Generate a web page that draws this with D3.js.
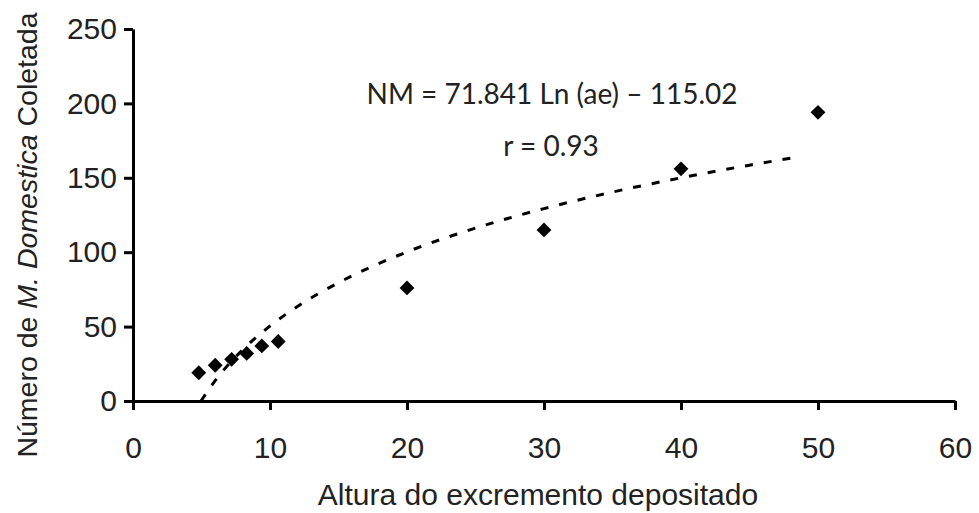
<!DOCTYPE html>
<html>
<head>
<meta charset="utf-8">
<script src="https://cdn.jsdelivr.net/npm/d3@7"></script>
<style>
  body { margin: 0; background: #fff; }
  svg { display: block; }
</style>
</head>
<body>
<div id="chart"></div>
<script>
var width = 979,
    height = 513;

// observed points (altura do excremento, numero de moscas)
var alturas = [4.8, 6.0, 7.2, 8.3, 9.4, 10.6, 20, 30, 40, 50];
var moscas  = [19, 24, 28, 32, 37, 40, 76, 115, 156, 194];

// points
var trendX = [4.96, 6, 7, 8, 10, 12, 15, 20, 25, 30, 35, 40, 45, 48.7];
var trendY = [0, 13.7, 24.8, 34.4, 50.4, 63.5, 79.5, 100.2, 116.2, 129.3, 140.4, 150, 158.5, 164.2];

var xTicks = [0, 10, 20, 30, 40, 50, 60];
var yTicks = [0, 50, 100, 150, 200, 250];

var equationText = 'NM = 71.841 Ln (ae) \u2013 115.02';
var rText = 'r = 0.93';

var svg = d3.select('#chart').append('svg')
    .attr('width', width)
    .attr('height', height);

var x = d3.scaleLinear()
    .domain([0, 60])
    .range([133, 955]);

var y = d3.scaleLinear()
    .domain([0, 250])
    .range([401, 29]);

// axes
var xAxis = d3.axisBottom(x)
    .tickValues(xTicks)
    .tickSize(9)
    .tickSizeOuter(0)
    .tickPadding(27);

var yAxis = d3.axisLeft(y)
    .tickValues(yTicks)
    .tickSize(9)
    .tickSizeOuter(0)
    .tickPadding(7);

var gx = svg.append('g')
    .attr('transform', 'translate(0,' + y(0) + ')')
    .call(xAxis);

var gy = svg.append('g')
    .attr('transform', 'translate(' + x(0) + ',0)')
    .call(yAxis);

svg.selectAll('.domain, .tick line')
    .style('stroke', '#000')
    .style('stroke-width', 3);

svg.selectAll('.tick text')
    .style('font-family', 'Liberation Sans, Arial, sans-serif')
    .style('font-size', '30px')
    .style('fill', '#222');

gx.selectAll('.tick text').attr('dy', '0.71em');

// axis titles
svg.append('text')
    .attr('x', (x(0) + x(60)) / 2 - 6)
    .attr('y', 505)
    .attr('text-anchor', 'middle')
    .style('font-family', 'Liberation Sans, Arial, sans-serif')
    .style('font-size', '30px')
    .style('fill', '#222')
    .text('Altura do excremento depositado');

var yTitle = svg.append('text')
    .attr('transform', 'translate(37,' + 235 + ') rotate(-90)')
    .attr('text-anchor', 'middle')
    .style('font-family', 'Liberation Sans, Arial, sans-serif')
    .style('font-size', '28.5px')
    .style('fill', '#222');
yTitle.append('tspan').text('N\u00famero de ');
yTitle.append('tspan').style('font-style', 'italic').text('M. Domestica');
yTitle.append('tspan').text(' Coletada');

// dashed trend curve
var trendData = trendX.map(function(d, i) { return [d, trendY[i]]; });

var line = d3.line()
    .x(function(d) { return x(d[0]); })
    .y(function(d) { return y(d[1]); })
    .curve(d3.curveMonotoneX);

svg.append('path')
    .datum(trendData)
    .attr('d', line)
    .style('fill', 'none')
    .style('stroke', '#000')
    .style('stroke-width', 3)
    .style('stroke-dasharray', '8,11');

// diamond markers
var points = alturas.map(function(d, i) { return { x: d, y: moscas[i] }; });

svg.append('g')
    .selectAll('path')
    .data(points)
    .enter()
    .append('path')
    .attr('d', d3.symbol().type(d3.symbolSquare).size(110))
    .attr('transform', function(d) {
        return 'translate(' + x(d.x) + ',' + y(d.y) + ') rotate(45)';
    })
    .style('fill', '#000');

// equation labels
svg.append('text')
    .attr('x', 552)
    .attr('y', 104)
    .attr('text-anchor', 'middle')
    .style('font-family', 'Lato, Open Sans, sans-serif')
    .style('font-size', '28px')
    .style('fill', '#222')
    .text(equationText);

svg.append('text')
    .attr('x', 551)
    .attr('y', 156)
    .attr('text-anchor', 'middle')
    .style('font-family', 'Lato, Open Sans, sans-serif')
    .style('font-size', '28px')
    .style('fill', '#222')
    .text(rText);
</script>
</body>
</html>
